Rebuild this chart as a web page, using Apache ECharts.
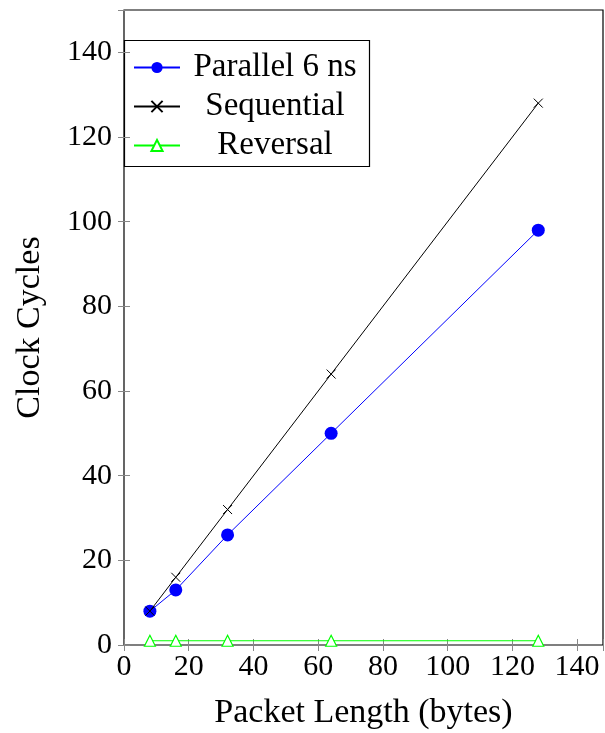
<!DOCTYPE html>
<html>
  <head>
    <meta charset="utf-8">
    <title></title>
    <style>
    body{margin:0;}
    .box{width:605px;height:733px;}
    </style>
    <script src="https://cdn.jsdelivr.net/npm/echarts@6/dist/echarts.min.js"></script>
  </head>
  <body>
    <div class="box" id="box"></div>
    <script>
    let xs = [8, 16, 32, 64, 128];
    let parallel = [8, 13, 26, 50, 98];
    let sequential = [8, 16, 32, 64, 128];
    let reversal = [1, 1, 1, 1, 1];
    let names = ['Parallel 6 ns', 'Sequential', 'Reversal'];

    let font = 'Liberation Serif';
    let cross = 'path://M0,0L10,10M10,0L0,10';

    function pairs(ys){
      return xs.map((x, i) => [x, ys[i]]);
    }

    function xAxisOf(pos, labels){
      return {
        type:'value', position:pos, min:0, max:148, interval:20,
        axisLine:{show:false},
        axisTick:{show:true, inside:true, length:6, lineStyle:{color:'#888', width:1}},
        axisLabel:{show:labels, color:'#000', fontFamily:font, fontSize:30, margin:7,
          formatter:v => v > 140 ? '' : v},
        splitLine:{show:false}
      };
    }
    function yAxisOf(pos, labels){
      return {
        type:'value', position:pos, min:0, max:150, interval:20,
        axisLine:{show:false},
        axisTick:{show:true, inside:true, length:6, lineStyle:{color:'#888', width:1}},
        axisLabel:{show:labels, color:'#000', fontFamily:font, fontSize:30, margin:12,
          formatter:v => v > 140 ? '' : v},
        splitLine:{show:false}
      };
    }

    let chart = echarts.init(document.getElementById('box'));
    let x0 = xAxisOf('bottom', true);
    x0.name = 'Packet Length (bytes)';
    x0.nameLocation = 'middle';
    x0.nameGap = 51;
    x0.nameTextStyle = {color:'#000', fontFamily:font, fontSize:34};
    let y0 = yAxisOf('left', true);
    y0.name = 'Clock Cycles';
    y0.nameLocation = 'middle';
    y0.nameGap = 77;
    y0.nameTextStyle = {color:'#000', fontFamily:font, fontSize:34};

    chart.setOption({
      animation:false,
      grid:{left:124, right:2, top:10, bottom:88, outerBoundsMode:'none',
        show:true, borderColor:'#000', borderWidth:1.2},
      xAxis:[x0, xAxisOf('top', false)],
      yAxis:[y0, yAxisOf('right', false)],
      legend:{
        orient:'vertical', left:128, top:46, itemWidth:46, itemHeight:14, itemGap:6,
        data:names,
        formatter:n => '{t|' + n + '}',
        textStyle:{rich:{t:{fontFamily:font, fontSize:33, lineHeight:34, color:'#000', width:180, align:'center'}}}
      },
      graphic:[{
        type:'rect', shape:{x:124.5, y:40.5, width:245, height:126},
        style:{fill:'none', stroke:'#000', lineWidth:1.2}, z:0
      }],
      series:[
        {name:names[0], type:'line', data:pairs(parallel), symbol:'circle', symbolSize:13,
          itemStyle:{color:'#0000ff'}, lineStyle:{color:'#0000ff', width:1}, z:3},
        {name:names[1], type:'line', data:pairs(sequential), symbol:cross, symbolSize:9,
          itemStyle:{color:'none', borderColor:'#000', borderWidth:1}, lineStyle:{color:'#000', width:1}, z:4},
        {name:names[2], type:'line', data:pairs(reversal), symbol:'triangle', symbolSize:11,
          itemStyle:{color:'#fff', borderColor:'#00ff00', borderWidth:1.2}, lineStyle:{color:'#00ff00', width:1.2}, z:2}
      ]
    });
    </script>
  </body>
</html>
